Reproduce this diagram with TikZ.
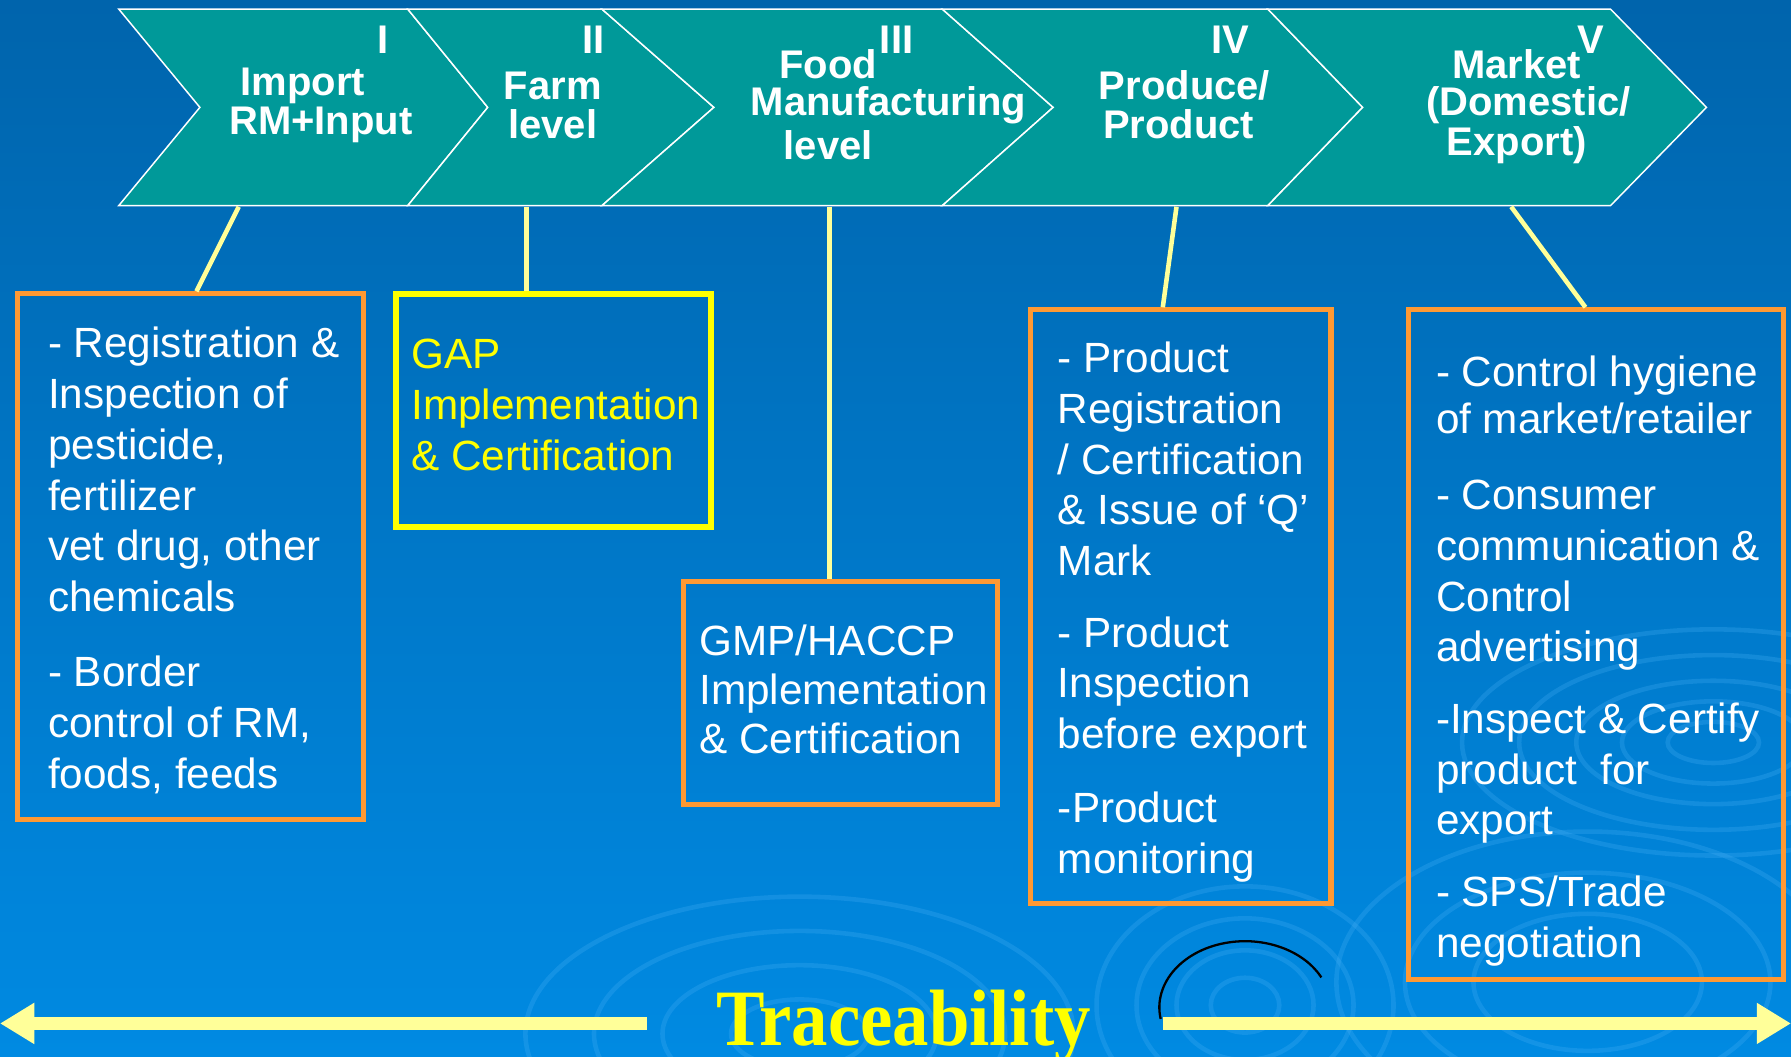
\documentclass[tikz,border=0pt]{standalone}
\usepackage{fontspec}
\setmainfont{Liberation Sans}
\newfontfamily\trfont{Liberation Serif}
\usetikzlibrary{arrows.meta,calc}
\definecolor{bgtop}{RGB}{0,100,172}
\definecolor{bgbot}{RGB}{0,138,226}
\definecolor{chev}{RGB}{0,153,153}
\definecolor{orng}{RGB}{255,153,51}
\definecolor{conn}{RGB}{255,255,153}
\definecolor{ylw}{RGB}{255,255,0}
\definecolor{rip}{RGB}{70,175,245}
\begin{document}
\begin{tikzpicture}[x=1pt,y=-1pt,
  chevron/.style={fill=chev,draw=white,line width=1.3pt,line join=miter},
  chtext/.style={text=white,font=\fontsize{35}{35}\selectfont\bfseries,inner sep=0pt},
  obox/.style={draw=orng,line width=4.5pt,inner sep=0pt,anchor=north west},
  ybox/.style={draw=ylw,line width=5pt,inner sep=0pt,anchor=north west},
  btext/.style={text=white,font=\fontsize{37}{44.5}\selectfont,align=left,anchor=north west,inner sep=0pt},
  link/.style={draw=conn,line width=4pt},
  trarrow/.style={draw=conn,line width=11pt,-{Triangle[length=30pt,width=34pt]}},
  ripple/.style={draw=rip,opacity=0.28,line width=4pt}
]
\useasboundingbox (0,0) rectangle (1568,925);
\shade[top color=bgtop,bottom color=bgbot] (0,0) rectangle (1568,925);

% faint ripples
\foreach \r in {60,120,180,240}{
  \draw[ripple] (700,905) ellipse ({\r} and {\r*0.5});
}
\foreach \r in {30,60,95,130}{
  \draw[ripple] (1090,880) ellipse ({\r} and {\r*0.8});
}
\foreach \r in {40,80,120,170,220}{
  \draw[ripple] (1500,650) ellipse ({\r} and {\r*0.45});
}
\foreach \r in {100,160,220}{
  \draw[ripple] (1390,860) ellipse ({\r} and {\r*0.6});
}
\draw[black,line width=2pt] (1090,882) ++(170:75 and 58) arc[start angle=170,end angle=333,x radius=75,y radius=58];

% chevrons
\draw[chevron] (104,8) -- (357,8) -- (427,94) -- (357,180) -- (104,180) -- (175,94) -- cycle;
\draw[chevron] (357,8) -- (527,8) -- (625,94) -- (527,180) -- (357,180) -- (427,94) -- cycle;
\draw[chevron] (527,8) -- (825,8) -- (922,94) -- (825,180) -- (527,180) -- (625,94) -- cycle;
\draw[chevron] (825,8) -- (1110,8) -- (1193,94) -- (1110,180) -- (825,180) -- (922,94) -- cycle;
\draw[chevron] (1110,8) -- (1410,8) -- (1494,94) -- (1410,180) -- (1110,180) -- (1193,94) -- cycle;

% chevron texts
\node[chtext] (n1) at (335,35) {I};
\node[chtext] (t1a) at (265,75) {Import};
\node[chtext] (t1b) at (281,109) {RM+Input};
\node[chtext] (n2) at (520,35) {II};
\node[chtext] (t2a) at (484,75) {Farm};
\node[chtext] (t2b) at (484,109) {level};
\node[chtext] (n3) at (785,35) {III};
\node[chtext] (t3a) at (725,56) {Food};
\node[chtext] (t3b) at (778,92) {Manufacturing};
\node[chtext] (t3c) at (725,127) {level};
\node[chtext] (n4) at (1077,35) {IV};
\node[chtext] (t4a) at (1037,75) {Produce/};
\node[chtext] (t4b) at (1032,109) {Product};
\node[chtext] (n5) at (1393,35) {V};
\node[chtext] (t5a) at (1328,56) {Market};
\node[chtext] (t5b) at (1338,92) {(Domestic/};
\node[chtext] (t5c) at (1328,127) {Export)};

% boxes
\node[obox,minimum width=303pt,minimum height=460pt] (b1) at (13,255) {};
\node[ybox,minimum width=276pt,minimum height=204pt] (b2) at (344,255) {};
\node[obox,minimum width=275pt,minimum height=195pt] (b3) at (596,507) {};
\node[obox,minimum width=263pt,minimum height=520pt] (b4) at (900,269) {};
\node[obox,minimum width=328pt,minimum height=586pt] (b5) at (1231,269) {};

% box texts
\node[btext] (x1) at (42,286) {- Registration \&\\ Inspection of\\ pesticide,\\ fertilizer\\ vet drug, other\\ chemicals\\[21pt] - Border\\ control of RM,\\ foods, feeds};
\node[btext,text=ylw] (x2) at (360,297) {GAP\\ Implementation\\ \& Certification};
\node[btext,font=\fontsize{37}{43}\selectfont] (x3) at (612,547) {GMP/HACCP\\ Implementation\\ \& Certification};
\node[btext] (x4) at (926,299) {- Product\\ Registration\\ / Certification\\ \& Issue of ‘Q’\\ Mark\\[18pt] - Product\\ Inspection\\ before export\\[20pt] -Product\\ monitoring};
\node[btext] (x5) at (1257,311) {- Control hygiene\\[-3pt] of market/retailer\\[22pt] - Consumer\\ communication \&\\ Control\\ advertising\\[18pt] -Inspect \& Certify\\ product~ for\\ export\\[18pt] - SPS/Trade\\ negotiation};

% links
\coordinate (k1) at (209,181);
\coordinate (k2) at (461,181);
\coordinate (k3) at (726,181);
\coordinate (k4) at (1030,181);
\coordinate (k5) at (1323,181);
\draw[link] (k1) -- ([xshift=159pt]b1.north west);
\draw[link] (k2) -- ([xshift=117pt]b2.north west);
\draw[link] (k3) -- ([xshift=130pt]b3.north west);
\draw[link] (k4) -- ([xshift=118pt]b4.north west);
\draw[link] (k5) -- ([xshift=157pt]b5.north west);

% traceability
\node[text=ylw,inner sep=0pt,anchor=base,font=\trfont\bfseries\fontsize{70}{70}\selectfont] (tr) at (791,915) {\scalebox{0.91}[1]{Traceability}};
\coordinate (la) at (566,896);
\coordinate (lb) at (0,896);
\coordinate (ra) at (1018,896);
\coordinate (rb) at (1568,896);
\draw[trarrow] (la) -- (lb);
\draw[trarrow] (ra) -- (rb);
\end{tikzpicture}
\end{document}
